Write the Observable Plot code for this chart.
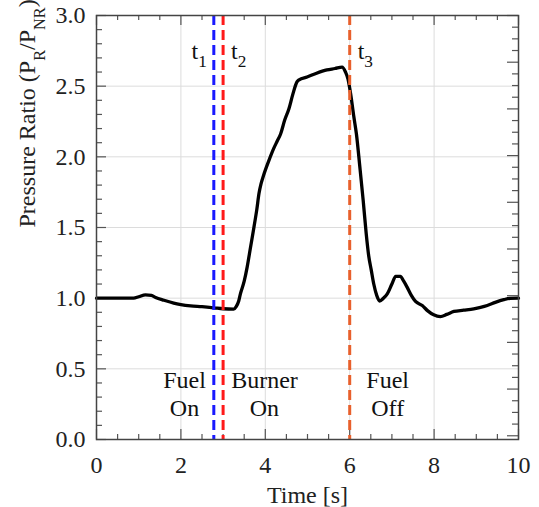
<!DOCTYPE html>
<html>
<head>
<meta charset="utf-8">
<script src="https://cdn.jsdelivr.net/npm/d3@7"></script>
<script src="https://cdn.jsdelivr.net/npm/@observablehq/plot@0.6"></script>
<style>
  html, body { margin: 0; padding: 0; background: #fff; overflow: hidden; }
</style>
</head>
<body>
<div id="chart"></div>
<script>
// ---- data ----
const timeS = [0, 0.5, 0.88, 1.0, 1.16, 1.3, 1.4, 1.6, 1.83, 2.0, 2.23, 2.5, 2.78, 3.0, 3.25, 3.31, 3.37, 3.41, 3.5, 3.57, 3.65, 3.73, 3.8, 3.85, 3.9, 3.96, 4.08, 4.2, 4.28, 4.36, 4.46, 4.56, 4.65, 4.75, 4.8, 4.99, 5.2, 5.46, 5.65, 5.82, 5.9, 5.96, 6.02, 6.1, 6.16, 6.24, 6.32, 6.39, 6.45, 6.51, 6.57, 6.64, 6.71, 6.8, 6.89, 7.0, 7.09, 7.2, 7.28, 7.36, 7.46, 7.56, 7.72, 7.85, 7.99, 8.15, 8.3, 8.47, 8.7, 8.94, 9.1, 9.26, 9.45, 9.65, 9.8, 10];
const pressureRatio = [1.0, 1.0, 1.0, 1.01, 1.024, 1.02, 1.005, 0.985, 0.965, 0.955, 0.946, 0.94, 0.932, 0.925, 0.922, 0.94, 0.98, 1.03, 1.12, 1.22, 1.36, 1.5, 1.63, 1.74, 1.81, 1.87, 1.97, 2.06, 2.11, 2.16, 2.26, 2.34, 2.44, 2.53, 2.545, 2.565, 2.59, 2.615, 2.625, 2.635, 2.6, 2.55, 2.45, 2.28, 2.16, 1.93, 1.69, 1.46, 1.3, 1.2, 1.1, 1.02, 0.98, 1.0, 1.03, 1.1, 1.154, 1.154, 1.12, 1.078, 1.02, 0.977, 0.948, 0.91, 0.882, 0.87, 0.885, 0.906, 0.915, 0.925, 0.935, 0.948, 0.97, 0.989, 0.998, 1.0];

const eventTimes = [2.78, 3.0, 6.0];
const eventLabels = ["t1", "t2", "t3"];
const eventColors = ["#1a1aff", "#ff1a1a", "#e8602c"];

const phaseX = [2.085, 3.98, 6.9];
const phaseLabels = ["Fuel\nOn", "Burner\nOn", "Fuel\nOff"];

const xTicks = [0, 2, 4, 6, 8, 10];
const yTicks = [0, 0.5, 1.0, 1.5, 2.0, 2.5, 3.0];
const xMinorTicks = d3.range(0, 10.01, 0.5);
const yMinorTicks = d3.range(0, 3.001, 0.1);
const rightTicks = d3.range(0, 37).map(k => 3 - k * 0.0826);

const xLabel = "Time [s]";
const yLabel = "Pressure Ratio (PR/PNR)";
const yLabelParts = [["Pressure Ratio (P", false], ["R", true], ["/P", false], ["NR", true], [")", false]];

// ---- layout ----
const W = 539, H = 507;
const mL = 96, mR = 21, mT = 15, mB = 68;
const fH = H - mT - mB, fW = W - mL - mR;

const curve = timeS.map((t, i) => ({t, p: pressureRatio[i]}));
const events = eventTimes.map((t, i) => ({t, label: eventLabels[i], color: eventColors[i]}));
const phases = phaseX.map((x, i) => ({x, label: phaseLabels[i]}));
const isMajorX = d => Math.abs(d / 2 - Math.round(d / 2)) < 1e-6;
const isMajorY = d => Math.abs(d * 2 - Math.round(d * 2)) < 1e-6;

const chart = Plot.plot({
  width: W, height: H,
  marginLeft: mL, marginRight: mR, marginTop: mT, marginBottom: mB,
  x: {domain: [0, 10]},
  y: {domain: [0, 3]},
  style: {fontFamily: "Liberation Serif", fontSize: "24px"},
  marks: [
    Plot.gridX([2, 4, 6, 8], {stroke: "#dcdcdc", strokeOpacity: 1, strokeWidth: 1}),
    Plot.gridY([0.5, 1.0, 1.5, 2.0, 2.5], {stroke: "#dcdcdc", strokeOpacity: 1, strokeWidth: 1}),
    // inward ticks bottom / top
    Plot.tickX(xMinorTicks.filter(d => !isMajorX(d)), {x: d => d, stroke: "#555", strokeWidth: 1.2, insetTop: fH - 5}),
    Plot.tickX(xMinorTicks.filter(isMajorX), {x: d => d, stroke: "#555", strokeWidth: 1.2, insetTop: fH - 10}),
    Plot.tickX(xMinorTicks.filter(d => !isMajorX(d)), {x: d => d, stroke: "#555", strokeWidth: 1.2, insetBottom: fH - 5}),
    Plot.tickX(xMinorTicks.filter(isMajorX), {x: d => d, stroke: "#555", strokeWidth: 1.2, insetBottom: fH - 10}),
    // inward ticks left
    Plot.tickY(yMinorTicks.filter(d => !isMajorY(d)), {y: d => d, stroke: "#555", strokeWidth: 1.2, insetRight: fW - 6}),
    Plot.tickY(yMinorTicks.filter(isMajorY), {y: d => d, stroke: "#555", strokeWidth: 1.2, insetRight: fW - 10}),
    // inward ticks right
    Plot.tickY(rightTicks.filter((d, k) => k % 4 !== 0), {y: d => d, stroke: "#555", strokeWidth: 1.2, insetLeft: fW - 6}),
    Plot.tickY(rightTicks.filter((d, k) => k % 4 === 0), {y: d => d, stroke: "#555", strokeWidth: 1.2, insetLeft: fW - 11}),
    // curve
    Plot.line(curve, {x: "t", y: "p", stroke: "#000", strokeWidth: 3.3, curve: "monotone-x", strokeLinejoin: "round"}),
    // event lines
    Plot.ruleX(events, {x: "t", stroke: "color", strokeWidth: 3, strokeDasharray: "10,5"}),
    // event labels
    Plot.text(events.slice(0, 1), {x: "t", y: 2.69, text: "label", textAnchor: "end", dx: -7, lineAnchor: "bottom", fontSize: 24, fill: "#111"}),
    Plot.text(events.slice(1), {x: "t", y: 2.69, text: "label", textAnchor: "start", dx: 8, lineAnchor: "bottom", fontSize: 24, fill: "#111"}),
    // phase labels
    Plot.text(phases, {x: "x", y: 0.165, text: "label", lineAnchor: "bottom", lineHeight: 1.167, fontSize: 24, fill: "#111"}),
    // axes
    Plot.axisX({ticks: xTicks, tickSize: 0, tickPadding: 16, tickFormat: d => String(d), label: null, fontSize: 24, fill: "#222"}),
    Plot.axisY({ticks: yTicks, tickSize: 0, tickPadding: 11, tickFormat: d3.format(".1f"), label: null, fontSize: 24, fill: "#222"}),
    // axis titles
    Plot.text([xLabel], {frameAnchor: "bottom", dy: 63, lineAnchor: "bottom", text: d => d, fontSize: 24, fill: "#222"}),
    Plot.text([yLabel], {frameAnchor: "left", dx: -69, rotate: -90, text: d => d, fontSize: 24, fill: "#222"}),
    Plot.frame({stroke: "#444", strokeWidth: 1.5})
  ]
});

// rich text: subscripts
const NS = "http://www.w3.org/2000/svg";
function richText(el, parts, drop, scale) {
  el.textContent = "";
  let shift = 0;
  for (const [s, sub] of parts) {
    const ts = document.createElementNS(NS, "tspan");
    ts.textContent = s;
    const target = sub ? drop : 0;
    if (target !== shift) { ts.setAttribute("dy", target - shift); shift = target; }
    if (sub) ts.setAttribute("font-size", scale);
    el.appendChild(ts);
  }
}
chart.querySelectorAll("text").forEach(el => {
  el.style.fontFamily = "Liberation Serif";
  const s = el.textContent;
  if (eventLabels.includes(s)) richText(el, [[s[0], false], [s.slice(1), true]], 8, "0.72em");
  else if (s === yLabel) richText(el, yLabelParts, 10, "0.68em");
});

document.getElementById("chart").appendChild(chart);
</script>
</body>
</html>
